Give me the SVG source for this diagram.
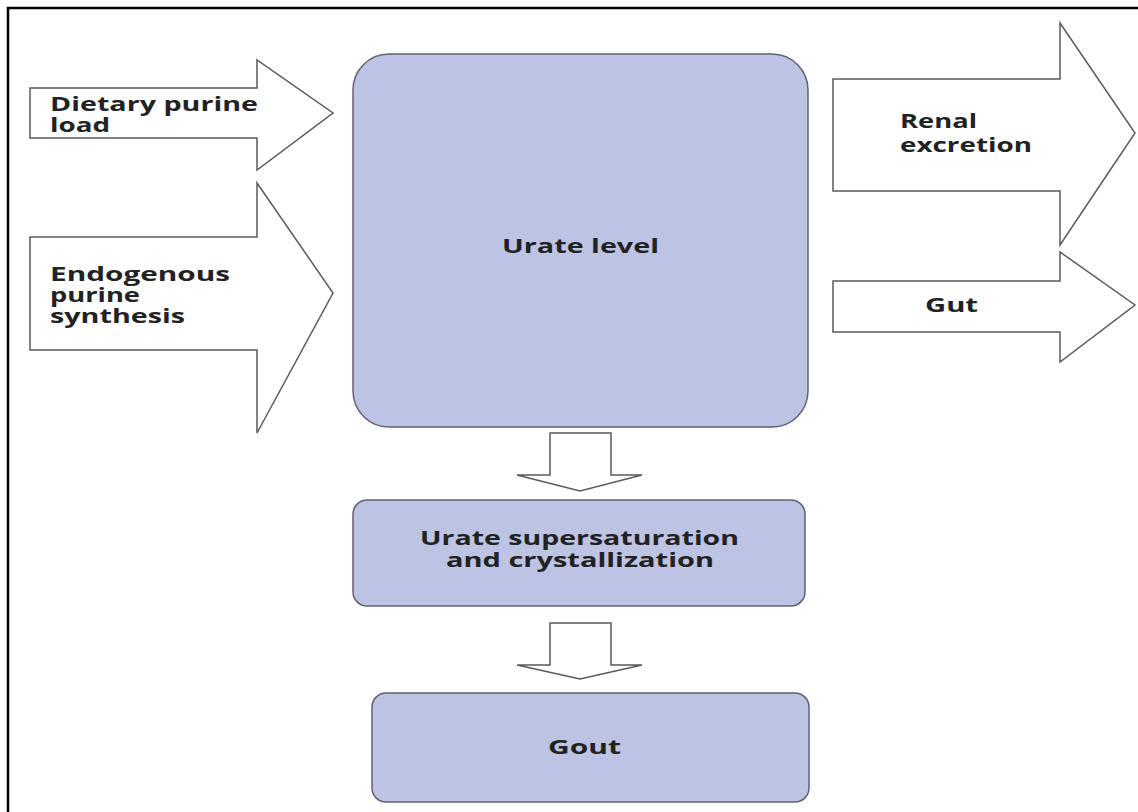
<svg xmlns="http://www.w3.org/2000/svg" width="1138" height="812" viewBox="0 0 1138 812">
<style>
.box{fill:#bcc3e3;stroke:#5f6272;stroke-width:1.5}
.arr{fill:#ffffff;stroke:#5a5a5a;stroke-width:1.5;stroke-linejoin:miter}
.t{font-family:"Open Sans","Noto Sans",sans-serif;font-weight:bold;font-size:19px;fill:#222}
</style>
<rect width="1138" height="812" fill="#ffffff"/>
<path d="M8 812 V8 H1138" fill="none" stroke="#000" stroke-width="2.5"/>
<g id="connectors">
<g id="arrow-dietary">
<polygon class="arr" points="30,88 257,88 257,60 333,113 257,170 257,138 30,138"/>
<text class="t" x="50" y="111" textLength="208" lengthAdjust="spacingAndGlyphs">Dietary purine</text>
<text class="t" x="50" y="132" textLength="60" lengthAdjust="spacingAndGlyphs">load</text>
</g>
<g id="arrow-endogenous">
<polygon class="arr" points="30,237 257,237 257,183 333,293 257,433 257,350 30,350"/>
<text class="t" x="50" y="281" textLength="180" lengthAdjust="spacingAndGlyphs">Endogenous</text>
<text class="t" x="50" y="302" textLength="90" lengthAdjust="spacingAndGlyphs">purine</text>
<text class="t" x="50" y="323" textLength="135" lengthAdjust="spacingAndGlyphs">synthesis</text>
</g>
<g id="arrow-renal">
<polygon class="arr" points="833,79 1060,79 1060,23 1135,133 1060,245 1060,191 833,191"/>
<text class="t" x="900" y="128" textLength="77" lengthAdjust="spacingAndGlyphs">Renal</text>
<text class="t" x="900" y="152" textLength="132" lengthAdjust="spacingAndGlyphs">excretion</text>
</g>
<g id="arrow-gut">
<polygon class="arr" points="833,281 1060,281 1060,252 1135,305 1060,362 1060,332 833,332"/>
<text class="t" x="925" y="312" textLength="53" lengthAdjust="spacingAndGlyphs">Gut</text>
</g>
<polygon class="arr" points="550,433 611,433 611,475 642,475 580,491 517,475 550,475"/>
<polygon class="arr" points="550,623 611,623 611,665 642,665 580,679 517,665 550,665"/>
</g>
<g id="urate-level">
<rect class="box" x="353" y="54" width="455" height="373" rx="36" ry="36"/>
<text class="t" x="502" y="253" textLength="157" lengthAdjust="spacingAndGlyphs">Urate level</text>
</g>
<g id="supersaturation">
<rect class="box" x="353" y="500" width="452" height="106" rx="14" ry="14"/>
<text class="t" x="420" y="545" textLength="319" lengthAdjust="spacingAndGlyphs">Urate supersaturation</text>
<text class="t" x="446" y="567" textLength="268" lengthAdjust="spacingAndGlyphs">and crystallization</text>
</g>
<g id="gout">
<rect class="box" x="372" y="693" width="437" height="109" rx="14" ry="14"/>
<text class="t" x="548" y="754" textLength="73" lengthAdjust="spacingAndGlyphs">Gout</text>
</g>
</svg>
